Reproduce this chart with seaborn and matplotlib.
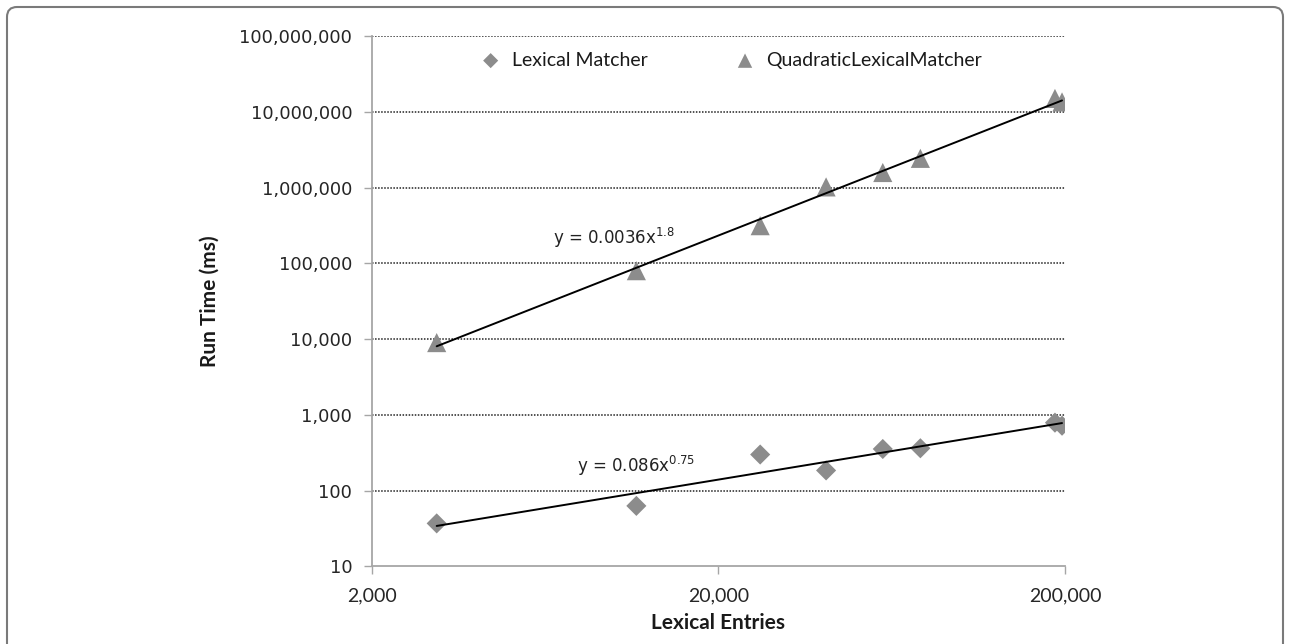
import numpy as np
import pandas as pd
import matplotlib
matplotlib.use('Agg')
import matplotlib.pyplot as plt
from matplotlib.patches import FancyBboxPatch
from matplotlib.ticker import FuncFormatter, NullLocator
import seaborn as sns

# values
lexical_entries = [3080, 11600, 26400, 40900, 59600, 76500, 187000, 196000]
lexical_matcher_ms = [37, 63, 300, 185, 355, 363, 790, 720]
quadratic_matcher_ms = [9000, 80000, 314000, 1020000, 1580000, 2430000, 15000000, 13500000]

x_ticks = [2000, 20000, 200000]
y_ticks = [10, 100, 1000, 10000, 100000, 1000000, 10000000, 100000000]

series_names = ['Lexical Matcher', 'QuadraticLexicalMatcher']
equation_labels = [r'y = 0.086x$^{0.75}$', r'y = 0.0036x$^{1.8}$']

MARKER_GREY = '#8c8c8c'
AXIS_GREY = '#a6a6a6'
LABEL_FONT = 'Lato'


def power_fit(x, y):
    # least squares in log-log space, like an Excel power trendline
    slope, intercept = np.polyfit(np.log10(x), np.log10(y), 1)
    xs = np.logspace(np.log10(min(x)), np.log10(max(x)), 60)
    return xs, 10 ** intercept * xs ** slope


def main():
    sns.set_theme(style='white')
    plt.rcParams['font.family'] = ['DejaVu Sans']

    fig = plt.figure(figsize=(12.91, 6.44), dpi=100)
    ax = fig.add_axes([0.2879, 0.1204, 0.5371, 0.8237])

    data = pd.DataFrame({
        'entries': lexical_entries,
        'lexical': lexical_matcher_ms,
        'quadratic': quadratic_matcher_ms,
    })

    ax.set_xscale('log')
    ax.set_yscale('log')

    for name, col in zip(series_names, ['lexical', 'quadratic']):
        xs, ys = power_fit(data['entries'], data[col])
        sns.lineplot(x=xs, y=ys, ax=ax, color='black', linewidth=1.4, zorder=3)

    sns.scatterplot(data=data, x='entries', y='lexical', ax=ax, marker='D', s=105,
                    color=MARKER_GREY, edgecolor='none', label=series_names[0], zorder=2)
    sns.scatterplot(data=data, x='entries', y='quadratic', ax=ax, marker='^', s=190,
                    color=MARKER_GREY, edgecolor='none', label=series_names[1], zorder=2)

    ax.set_xlim(x_ticks[0], x_ticks[-1])
    ax.set_ylim(y_ticks[0], y_ticks[-1])
    ax.set_xticks(x_ticks)
    ax.set_yticks(y_ticks)
    ax.xaxis.set_minor_locator(NullLocator())
    ax.yaxis.set_minor_locator(NullLocator())
    comma = FuncFormatter(lambda v, p: f'{int(round(v)):,}')
    ax.xaxis.set_major_formatter(comma)
    ax.yaxis.set_major_formatter(comma)

    ax.tick_params(axis='y', which='major', direction='out', length=6, width=1,
                   color=AXIS_GREY, labelsize=13, pad=8, left=True)
    ax.tick_params(axis='x', which='major', direction='out', length=6, width=1,
                   color=AXIS_GREY, labelsize=14, pad=9, bottom=True)
    for lbl in ax.get_xticklabels():
        lbl.set_fontfamily(LABEL_FONT)

    for v in y_ticks[1:]:
        ax.axhline(v, color='#222222', linestyle=(0, (1, 1)), linewidth=1.1, zorder=1)

    for side in ['top', 'right']:
        ax.spines[side].set_visible(False)
    for side in ['left', 'bottom']:
        ax.spines[side].set_color(AXIS_GREY)
        ax.spines[side].set_linewidth(1.3)

    ax.set_xlabel('Lexical Entries', fontsize=15, fontweight='bold', family=LABEL_FONT,
                  labelpad=6, color='#1a1a1a')
    ax.set_ylabel('Run Time (ms)', fontsize=15, fontweight='bold', family=LABEL_FONT,
                  labelpad=14, color='#1a1a1a')

    ax.text(0.296, 0.189, equation_labels[0], transform=ax.transAxes, fontsize=12,
            color='#222222', va='center', ha='left')
    ax.text(0.262, 0.620, equation_labels[1], transform=ax.transAxes, fontsize=12,
            color='#222222', va='center', ha='left')

    leg = ax.legend(loc='upper center', bbox_to_anchor=(0.512, 0.985), ncol=2,
                    frameon=False, borderaxespad=0, columnspacing=4.0,
                    handletextpad=0.1, markerscale=0.75, prop={'family': LABEL_FONT, 'size': 14})
    for t in leg.get_texts():
        t.set_color('#1a1a1a')

    # rounded outer border, bottom edge runs off the canvas like in the source
    frame = FancyBboxPatch((7, -30), 1276, 667, boxstyle='round,pad=0,rounding_size=10',
                           transform=None, facecolor='none', edgecolor='#7a7a7a',
                           linewidth=1.5)
    fig.patches.append(frame)

    fig.savefig('out.png', dpi=100)
    plt.close(fig)


if __name__ == '__main__':
    main()
